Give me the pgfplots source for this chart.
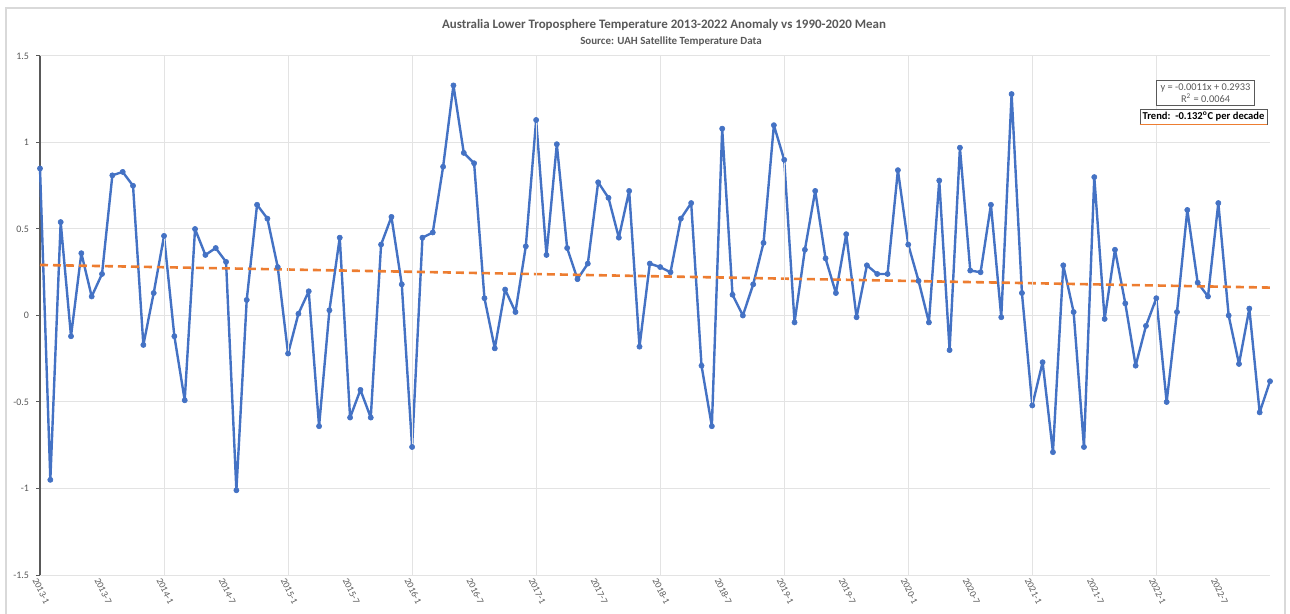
\documentclass[border=0pt]{standalone}
\usepackage{fontspec}
\setmainfont{Carlito}
\usepackage{pgfplots}
\pgfplotsset{compat=1.18}
\definecolor{xlblue}{HTML}{4472C4}
\definecolor{xlorange}{HTML}{ED7D31}
\definecolor{xltext}{HTML}{595959}
\definecolor{xlgrid}{HTML}{E3E3E3}
\definecolor{xlborder}{HTML}{D9D9D9}
\begin{document}
\begin{tikzpicture}
\useasboundingbox (0,0) rectangle (645bp,307bp);
\draw[xlborder, line width=0.6bp] (3bp,-20bp) rectangle (642.5bp,303bp);
\begin{axis}[
  at={(20bp,19.5bp)}, anchor=south west,
  width=615bp, height=259.5bp, scale only axis,
  xmin=0, xmax=119, ymin=-1.5, ymax=1.5,
  axis lines*=left,
  axis x line=none,
  y axis line style={draw=xltext, line width=0.6bp},
  ytick={-1.5,-1,...,1.5},
  yticklabels={-1.5,-1,-0.5,0,0.5,1,1.5},
  ymajorgrids, grid style={xlgrid, line width=0.5bp},
  ytick style={draw=xltext, line width=0.5bp},
  tick align=outside, major tick length=2bp,
  yticklabel style={font=\fontsize{5}{6}\selectfont, text=xltext},
  /pgf/number format/assume math mode=true,
  clip=false,
]
\addplot[xlblue, line width=1.2bp, line join=round, line cap=round, mark=*, mark size=1.3bp, mark options={fill=xlblue, draw=xlblue, line width=0.3bp}] coordinates {
(0,0.85) (1,-0.95) (2,0.54) (3,-0.12) (4,0.36) (5,0.11) (6,0.24) (7,0.81) (8,0.83) (9,0.75)
(10,-0.17) (11,0.13) (12,0.46) (13,-0.12) (14,-0.49) (15,0.50) (16,0.35) (17,0.39) (18,0.31) (19,-1.01)
(20,0.09) (21,0.64) (22,0.56) (23,0.28) (24,-0.22) (25,0.01) (26,0.14) (27,-0.64) (28,0.03) (29,0.45)
(30,-0.59) (31,-0.43) (32,-0.59) (33,0.41) (34,0.57) (35,0.18) (36,-0.76) (37,0.45) (38,0.48) (39,0.86)
(40,1.33) (41,0.94) (42,0.88) (43,0.10) (44,-0.19) (45,0.15) (46,0.02) (47,0.40) (48,1.13) (49,0.35)
(50,0.99) (51,0.39) (52,0.21) (53,0.30) (54,0.77) (55,0.68) (56,0.45) (57,0.72) (58,-0.18) (59,0.30)
(60,0.28) (61,0.25) (62,0.56) (63,0.65) (64,-0.29) (65,-0.64) (66,1.08) (67,0.12) (68,0.00) (69,0.18)
(70,0.42) (71,1.10) (72,0.90) (73,-0.04) (74,0.38) (75,0.72) (76,0.33) (77,0.13) (78,0.47) (79,-0.01)
(80,0.29) (81,0.24) (82,0.24) (83,0.84) (84,0.41) (85,0.20) (86,-0.04) (87,0.78) (88,-0.20) (89,0.97)
(90,0.26) (91,0.25) (92,0.64) (93,-0.01) (94,1.28) (95,0.13) (96,-0.52) (97,-0.27) (98,-0.79) (99,0.29)
(100,0.02) (101,-0.76) (102,0.80) (103,-0.02) (104,0.38) (105,0.07) (106,-0.29) (107,-0.06) (108,0.10) (109,-0.50)
(110,0.02) (111,0.61) (112,0.19) (113,0.11) (114,0.65) (115,0.00) (116,-0.28) (117,0.04) (118,-0.56) (119,-0.38)
};
\addplot[xlorange, line width=1.3bp, dash pattern=on 4bp off 2.5bp] coordinates {(0,0.2922) (119,0.1613)};
% vertical gridlines every 12 months
\pgfplotsinvokeforeach{12,24,...,108}{
  \draw[xlgrid, line width=0.5bp] (axis cs:#1,-1.5) -- (axis cs:#1,1.5);
}
% x tick labels
\pgfplotsforeachungrouped \i/\lab in {0/2013-1,6/2013-7,12/2014-1,18/2014-7,24/2015-1,30/2015-7,36/2016-1,42/2016-7,48/2017-1,54/2017-7,60/2018-1,66/2018-7,72/2019-1,78/2019-7,84/2020-1,90/2020-7,96/2021-1,102/2021-7,108/2022-1,114/2022-7}{
  \edef\temp{\noexpand\node[rotate=-64, anchor=west, inner sep=0.5bp, text=xltext, font=\noexpand\fontsize{4.8}{5.6}\noexpand\selectfont] at (axis cs:\i,-1.5) [yshift=-3bp] {\lab};}
  \temp
}
\end{axis}
\node[text=xltext, font=\fontsize{6.5}{7.8}\selectfont\bfseries] at (332bp,294.5bp) {Australia Lower Troposphere Temperature 2013-2022 Anomaly vs 1990-2020 Mean};
\node[text=xltext, font=\fontsize{5.5}{6.5}\selectfont\bfseries] at (335.5bp,286.3bp) {Source: UAH Satellite Temperature Data};
\node[draw=xltext, line width=0.4bp, fill=white, text=xltext, align=center, inner xsep=2bp, inner ysep=1.5bp, font=\fontsize{5.2}{6.2}\selectfont] at (602.75bp,260.5bp) {y = -0.0011x + 0.2933\\R\textsuperscript{2} = 0.0064};
\node[draw=xltext, line width=0.4bp, fill=white, text=black, inner sep=1.3bp, minimum width=63.5bp, font=\fontsize{5.3}{6.3}\selectfont\bfseries] (tr) at (601.75bp,248.5bp) {Trend:\ \ -0.132\textsuperscript{o}C per decade};
\draw[xlorange, line width=0.8bp] (tr.south west) -- (tr.south east);
\end{tikzpicture}
\end{document}
